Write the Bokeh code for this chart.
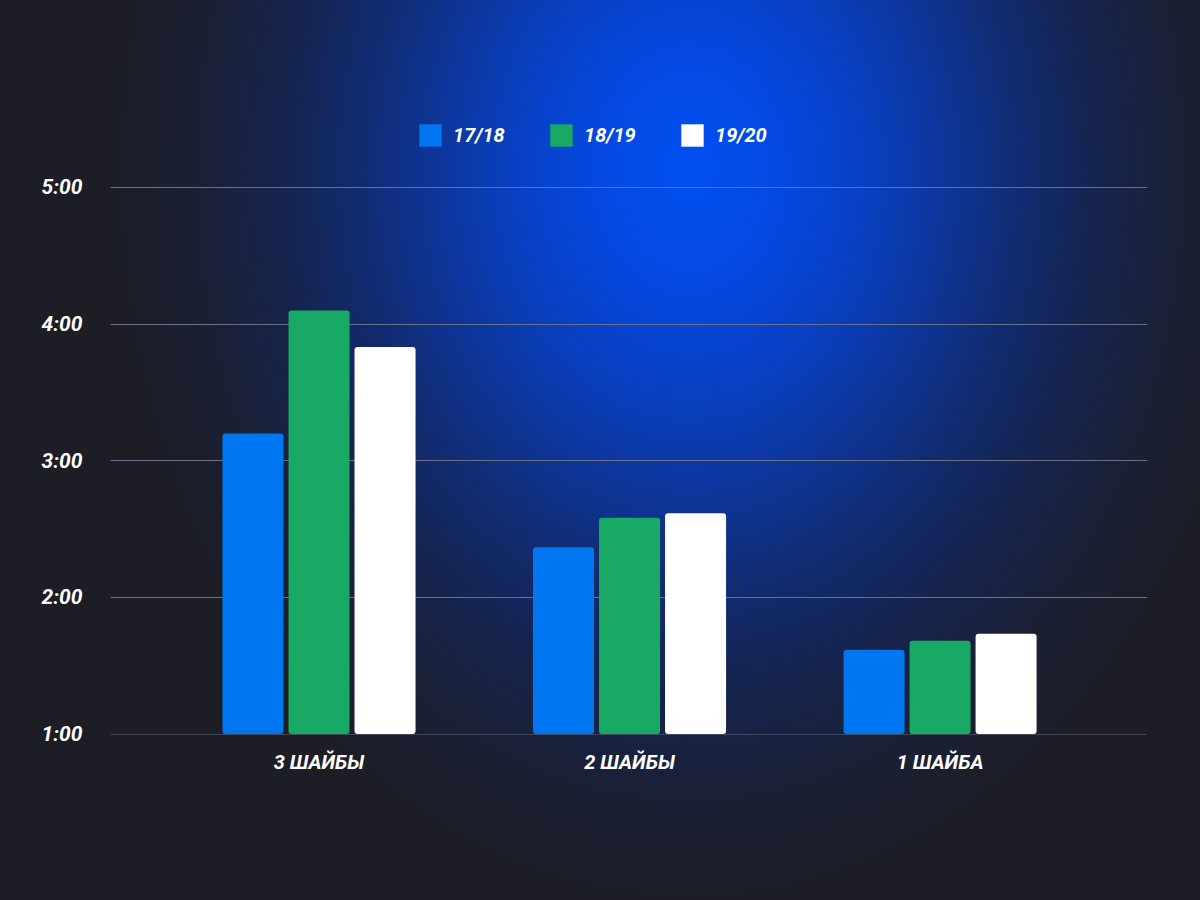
from bokeh.plotting import figure
from bokeh.models import Range1d, FixedTicker, ColumnDataSource
from bokeh.embed import file_html
from bokeh.resources import INLINE

categories = ["3 ШАЙБЫ", "2 ШАЙБЫ", "1 ШАЙБА"]
seasons = ["17/18", "18/19", "19/20"]
# values in seconds
s1718 = [192, 142, 97]
s1819 = [246, 155, 101]
s1920 = [230, 157, 104]
y_ticks = [1, 2, 3, 4, 5]
y_tick_labels = ["1:00", "2:00", "3:00", "4:00", "5:00"]
colors = ["#0077f0", "#18a964", "#ffffff"]

FONT = "Roboto"
PX_PER_MIN = 136.75

p = figure(width=1200, height=900, output_backend="svg", toolbar_location=None,
           x_range=Range1d(-0.6715, 2.668),
           y_range=Range1d(0.997, 5 + 87 / PX_PER_MIN),
           min_border_left=110, min_border_right=53, min_border_top=100,
           min_border_bottom=166)
p.background_fill_alpha = 0
p.border_fill_alpha = 0
p.outline_line_color = None
p.styles = {
    "background-color": "#1c1d25",
    "background-image": "radial-gradient(ellipse 580px 740px at 690px 170px, "
                        "#0050f0 0%, #0449e4 14%, #0841c8 28%, #0c379f 42%, "
                        "#112c73 56%, #15244f 70%, #1a2036 84%, #1c1d25 100%)",
}

x = list(range(len(categories)))
offsets = [-0.2126, 0.0, 0.2126]
series = [s1718, s1819, s1920]
for vals, off, col, name in zip(series, offsets, colors, seasons):
    src = ColumnDataSource(dict(x=[xi + off for xi in x], top=[v / 60 for v in vals]))
    p.vbar(x="x", top="top", bottom=1, width=0.1965, source=src, fill_color=col,
           line_color=None, border_radius=3, legend_label=name)

# Y axis
p.yaxis.ticker = FixedTicker(ticks=y_ticks)
p.yaxis.major_label_overrides = {t: l for t, l in zip(y_ticks, y_tick_labels)}
p.yaxis.axis_line_color = None
p.yaxis.major_tick_line_color = None
p.yaxis.minor_tick_line_color = None
p.yaxis.major_label_standoff = 22
p.yaxis.major_label_text_color = "#ffffff"
p.yaxis.major_label_text_font = FONT
p.yaxis.major_label_text_font_style = "bold italic"
p.yaxis.major_label_text_font_size = "21px"

# X axis
p.xaxis.ticker = FixedTicker(ticks=x)
p.xaxis.major_label_overrides = {i: c for i, c in zip(x, categories)}
p.xaxis.axis_line_color = None
p.xaxis.major_tick_line_color = None
p.xaxis.minor_tick_line_color = None
p.xaxis.major_label_standoff = 9
p.xaxis.major_label_text_color = "#ffffff"
p.xaxis.major_label_text_font = FONT
p.xaxis.major_label_text_font_style = "bold italic"
p.xaxis.major_label_text_font_size = "20px"

p.xgrid.grid_line_color = None
p.ygrid.grid_line_color = "#6a7085"
p.ygrid.grid_line_width = 1

leg = p.legend[0]
leg.orientation = "horizontal"
leg.location = (306, 585)
leg.padding = 0
leg.margin = 0
leg.border_line_color = None
leg.background_fill_alpha = 0
leg.glyph_width = 28
leg.glyph_height = 28
leg.label_standoff = 9
leg.label_width = 70
leg.spacing = 24
leg.label_text_color = "#ffffff"
leg.label_text_font = FONT
leg.label_text_font_style = "bold italic"
leg.label_text_font_size = "20px"
leg.label_text_baseline = "middle"

open("out.html", "w").write(file_html(p, INLINE))
